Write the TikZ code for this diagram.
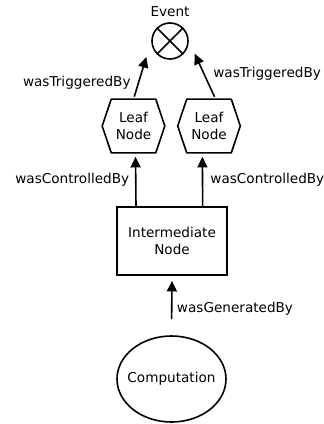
\documentclass[tikz,border=0pt]{standalone}
\usepackage{fontspec}
\setmainfont{DejaVu Sans}
\usetikzlibrary{positioning,arrows.meta,shapes.geometric}

\begin{document}
\begin{tikzpicture}[x=0.75pt,y=-0.75pt,line width=1.2pt,
	every node/.style={font=\fontsize{10.2}{12.5}\selectfont,align=center},
	leaf/.style={rectangle,minimum width=32.25pt,minimum height=39pt,inner sep=0pt},
	arr/.style={-{Triangle[length=8pt,width=7.5pt]}}]
\useasboundingbox (0,0) rectangle (324,424);

\node (evlab) at (170,12) {Event};
\node[draw,circle,minimum size=27pt,inner sep=0pt] (ev) at (170,41) {};
\draw (ev.north west)--(ev.south east) (ev.north east)--(ev.south west);

\node[leaf] (leafA) at (133.5,126) {Leaf\\Node};
\node[leaf] (leafB) at (209,126) {Leaf\\Node};
\foreach \n in {leafA,leafB}
	\draw[line join=round] (\n.north west)--(\n.north east)--([xshift=6.75pt]\n.east)--(\n.south east)--(\n.south west)--([xshift=-6.75pt]\n.west)--cycle;
\node[draw,rectangle,minimum width=82.5pt,minimum height=51pt] (inter) at (172,241) {Intermediate\\Node};
\node[draw,ellipse,inner xsep=-6pt,minimum width=81.75pt,minimum height=64.5pt] (comp) at (171.5,379) {Computation};

\draw[arr,shorten >=12.5pt,shorten <=2pt] (leafA.north)--(ev.west) node[pos=0.28,left=2pt] {wasTriggeredBy};
\draw[arr,shorten >=10.5pt,shorten <=2pt] ([xshift=5pt]leafB.north)--(ev.east) node[pos=0.43,right=3pt] {wasTriggeredBy};
\draw[arr,shorten >=3pt] ([xshift=-27pt]inter.north)--([xshift=1.5pt]leafA.south) node[midway,left=1pt] {wasControlledBy};
\draw[arr,shorten >=3pt] ([xshift=23pt]inter.north)--([xshift=-5pt]leafB.south) node[midway,right=2pt] {wasControlledBy};
\draw[arr,shorten >=3.75pt,shorten <=12pt] (comp.north)--(inter.south) node[pos=0.45,right=0pt] {wasGeneratedBy};

\end{tikzpicture}
\end{document}
